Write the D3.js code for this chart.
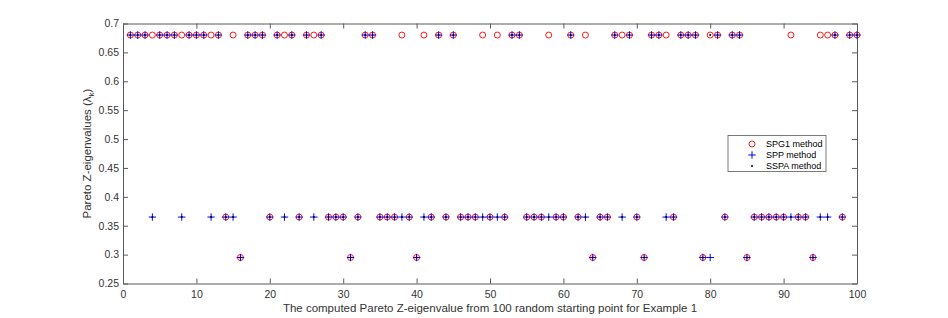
<!DOCTYPE html>
<html>
<head>
<meta charset="utf-8">
<script src="https://cdn.jsdelivr.net/npm/d3@7"></script>
<style>
html,body{margin:0;padding:0;background:#fff;}
svg{display:block;font-family:"Liberation Sans",Arial,Helvetica,sans-serif;}
</style>
</head>
<body>
<svg id="chart" width="948" height="318"></svg>
<script>
// Data: computed Pareto Z-eigenvalue for 100 random starting points
const T = 0.68, M = 0.365, B = 0.295;
const spg1 = [T,T,T,T,T,T,T,T,T,T, T,T,T,M,T,B,T,T,T,M, T,T,T,M,T,T,T,M,M,M,
              B,M,T,T,M,M,M,T,M,B, T,M,T,M,T,M,M,M,T,M, T,M,T,T,M,M,M,T,M,M,
              T,M,T,B,M,M,T,T,T,M, B,T,T,T,M,T,T,T,B,T, T,M,T,T,B,M,M,M,M,M,
              T,M,M,B,T,T,T,M,T,T];
const spp  = [T,T,T,M,T,T,T,M,T,T, T,M,T,M,M,B,T,T,T,M, T,M,T,M,T,M,T,M,M,M,
              B,M,T,T,M,M,M,M,M,B, M,M,T,M,T,M,M,M,M,M, M,M,T,T,M,M,M,M,M,M,
              T,M,M,B,M,M,T,M,T,M, B,T,T,M,M,T,T,T,B,B, T,M,T,T,B,M,M,M,M,M,
              M,M,M,B,M,M,T,M,T,T];
const sspa = [T,T,T,M,T,T,T,M,T,T, T,M,T,M,M,B,T,T,T,M, T,M,T,M,T,M,T,M,M,M,
              B,M,T,T,M,M,M,M,M,B, M,M,T,M,T,M,M,M,M,M, M,M,T,T,M,M,M,M,M,M,
              T,M,M,B,M,M,T,M,T,M, B,T,T,M,M,T,T,T,B,T, T,M,T,T,B,M,M,M,M,M,
              M,M,M,B,M,M,T,M,T,T];
const xTicks = [0,10,20,30,40,50,60,70,80,90,100];
const yTicks = [0.25,0.3,0.35,0.4,0.45,0.5,0.55,0.6,0.65,0.7];
const yTickLabels = ["0.25","0.3","0.35","0.4","0.45","0.5","0.55","0.6","0.65","0.7"];
const legendLabels = ["SPG1 method","SPP method","SSPA method"];

const svg = d3.select("#chart");
const L = 123, R = 857, Tp = 23.5, Bt = 283.5;
const x = d3.scaleLinear().domain([0,100]).range([L,R]);
const y = d3.scaleLinear().domain([0.25,0.7]).range([Bt,Tp]);
const axisColor = "#5a5a5a";
const textColor = "#333";

const xAxis = d3.axisBottom(x).tickValues(xTicks).tickSize(-5).tickPadding(7).tickFormat(d3.format("d"));
const yAxis = d3.axisLeft(y).tickValues(yTicks).tickSize(-5).tickPadding(4).tickFormat((d,i)=>yTickLabels[i]);
const xTop = d3.axisTop(x).tickValues(xTicks).tickSize(-5).tickFormat("");
const yRight = d3.axisRight(y).tickValues(yTicks).tickSize(-5).tickFormat("");

function style(g){
  g.selectAll("path,line").attr("stroke",axisColor).attr("stroke-width",1);
  g.selectAll("text").attr("fill",textColor).attr("font-size",10.5)
    .attr("font-family","'Liberation Sans',Arial,sans-serif");
}
svg.append("g").attr("transform",`translate(0,${Bt})`).call(xAxis.tickSizeOuter(0)).call(style);
svg.append("g").attr("transform",`translate(${L},0)`).call(yAxis.tickSizeOuter(0)).call(style);
svg.append("g").attr("transform",`translate(0,${Tp})`).call(xTop.tickSizeOuter(0)).call(style);
svg.append("g").attr("transform",`translate(${R},0)`).call(yRight.tickSizeOuter(0)).call(style);

// Axis labels
svg.append("text").attr("x",(L+R)/2).attr("y",312).attr("text-anchor","middle")
  .attr("font-size",11.5).attr("fill",textColor)
  .text("The computed Pareto Z-eigenvalue from 100 random starting point for Example 1");
const yl = svg.append("text").attr("transform",`translate(91,${(Tp+Bt)/2}) rotate(-90)`)
  .attr("text-anchor","middle").attr("font-size",11.5).attr("fill",textColor);
yl.append("tspan").text("Pareto Z-eigenvalues (λ");
yl.append("tspan").attr("font-size",8).attr("dy",3).text("k");
yl.append("tspan").attr("dy",-3).text(")");

const idx = d3.range(1,101);
const plot = svg.append("g");
// SPG1 circles
plot.selectAll("circle.spg").data(idx).join("circle").attr("class","spg")
  .attr("cx",i=>x(i)).attr("cy",i=>y(spg1[i-1])).attr("r",3)
  .attr("fill","none").attr("stroke","#ff0000").attr("stroke-width",0.9);
// SPP plus
const plus = (g,cx,cy,s)=>`M${cx-s},${cy}H${cx+s}M${cx},${cy-s}V${cy+s}`;
plot.selectAll("path.spp").data(idx).join("path").attr("class","spp")
  .attr("d",i=>plus(null,x(i),y(spp[i-1]),3.7))
  .attr("stroke","#0000ff").attr("stroke-width",1).attr("fill","none");
// SSPA dots
plot.selectAll("circle.sspa").data(idx).join("circle").attr("class","sspa")
  .attr("cx",i=>x(i)).attr("cy",i=>y(sspa[i-1])).attr("r",1).attr("fill","#000");

// Legend
const lg = svg.append("g");
lg.append("rect").attr("x",728).attr("y",135.5).attr("width",98).attr("height",36)
  .attr("fill","#fff").attr("stroke",axisColor).attr("stroke-width",0.8);
const ly = [144,155,166];
lg.append("circle").attr("cx",752).attr("cy",ly[0]).attr("r",3).attr("fill","none").attr("stroke","#ff0000").attr("stroke-width",0.9);
lg.append("path").attr("d",plus(null,752,ly[1],3.7)).attr("stroke","#0000ff").attr("stroke-width",1);
lg.append("circle").attr("cx",752).attr("cy",ly[2]).attr("r",1).attr("fill","#000");
lg.selectAll("text").data(legendLabels).join("text")
  .attr("x",766).attr("y",(d,i)=>ly[i]+3).attr("font-size",9).attr("fill","#000").text(d=>d);
</script>
</body>
</html>
